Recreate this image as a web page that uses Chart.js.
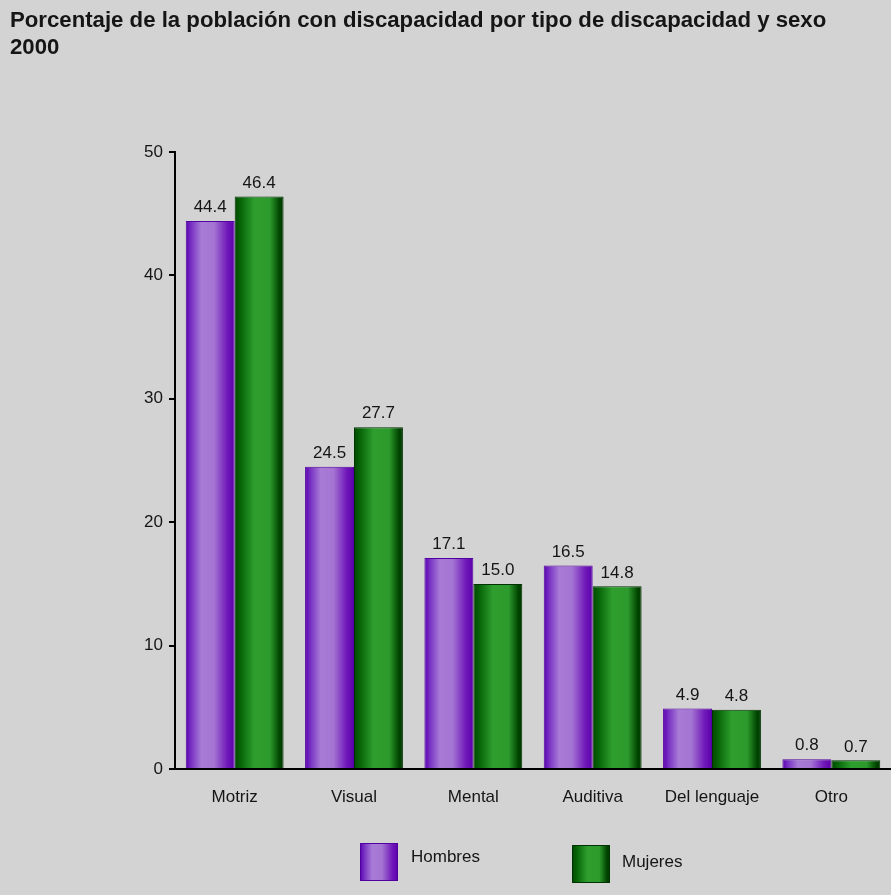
<!doctype html>
<html lang="es">
<head>
<meta charset="UTF-8">
<title>Población con discapacidad 2000</title>
<script src="https://cdn.jsdelivr.net/npm/chart.js@4.4.1/dist/chart.umd.min.js"></script>
<style>
  html, body { margin: 0; padding: 0; background: #d3d3d3; }
  #wrap { width: 891px; height: 895px; }
</style>
</head>
<body>
<div id="wrap">
  <canvas id="barChart" width="891" height="895"></canvas>
</div>
<script>
// datos
const tipos = ['Motriz', 'Visual', 'Mental', 'Auditiva', 'Del lenguaje', 'Otro'];
const hombres = [44.4, 24.5, 17.1, 16.5, 4.9, 0.8];
const mujeres = [46.4, 27.7, 15.0, 14.8, 4.8, 0.7];
const ejeY = [0, 10, 20, 30, 40, 50];

const FUENTE = "'Liberation Sans', Arial, sans-serif";
const TEXTO = '#151515';

// franjas de color de cada serie (efecto cilindro)
const franjaMorada = [[0, '#5a00b0'], [0.12, '#7a34c4'], [0.32, '#a87cd6'], [0.58, '#a474d2'], [0.85, '#7018ba'], [1, '#5c00ac']];
const franjaVerde = [[0, '#004800'], [0.15, '#0a6a0a'], [0.4, '#2e9e2e'], [0.72, '#2c9a2c'], [0.92, '#004400'], [1, '#003a00']];

function pintaFranja(ctx, x0, x1, franja) {
  const g = ctx.createLinearGradient(x0, 0, x1, 0);
  franja.forEach(([p, c]) => g.addColorStop(p, c));
  return g;
}

// relleno degradado por barra, a partir de la posición calculada por Chart.js
const degradado = {
  id: 'degradado',
  beforeDatasetsDraw(chart) {
    const ctx = chart.ctx;
    chart.data.datasets.forEach((ds, i) => {
      chart.getDatasetMeta(i).data.forEach(bar => {
        const { x, width } = bar.getProps(['x', 'width'], true);
        const g = pintaFranja(ctx, x - width / 2, x + width / 2, ds.franja);
        bar.options = Object.assign({}, bar.options, { backgroundColor: g });
      });
    });
  }
};

// valores encima de cada barra
const etiquetas = {
  id: 'etiquetas',
  afterDatasetsDraw(chart) {
    const ctx = chart.ctx;
    ctx.save();
    ctx.font = '17px ' + FUENTE;
    ctx.fillStyle = TEXTO;
    ctx.textAlign = 'center';
    ctx.textBaseline = 'bottom';
    chart.data.datasets.forEach((ds, i) => {
      chart.getDatasetMeta(i).data.forEach((bar, j) => {
        ctx.fillText(ds.data[j].toFixed(1), bar.x, bar.y - 5);
      });
    });
    ctx.restore();
  }
};

// leyenda inferior
const leyenda = {
  id: 'leyenda',
  afterDraw(chart) {
    const ctx = chart.ctx;
    const items = [
      { x: 360, y: 843, tx: 411, ty: 857 },
      { x: 572, y: 845, tx: 622, ty: 862 }
    ];
    ctx.save();
    ctx.font = '17px ' + FUENTE;
    ctx.textBaseline = 'middle';
    chart.data.datasets.forEach((ds, i) => {
      const it = items[i];
      ctx.fillStyle = pintaFranja(ctx, it.x, it.x + 38, ds.franja);
      ctx.fillRect(it.x, it.y, 38, 38);
      ctx.strokeStyle = ds.borderColor;
      ctx.lineWidth = 1;
      ctx.strokeRect(it.x + 0.5, it.y + 0.5, 37, 37);
      ctx.fillStyle = TEXTO;
      ctx.fillText(ds.label, it.tx, it.ty);
    });
    ctx.restore();
  }
};

const ctx = document.getElementById('barChart').getContext('2d');
const chart = new Chart(ctx, {
  type: 'bar',
  plugins: [degradado, etiquetas, leyenda],
  data: {
    labels: tipos,
    datasets: [{
      label: 'Hombres',
      data: hombres,
      franja: franjaMorada,
      backgroundColor: '#a070d0',
      borderColor: '#5000a0',
      borderWidth: 1
    }, {
      label: 'Mujeres',
      data: mujeres,
      franja: franjaVerde,
      backgroundColor: '#2e9e2e',
      borderColor: '#003300',
      borderWidth: 1
    }]
  },
  options: {
    responsive: false,
    animation: false,
    events: [],
    categoryPercentage: 0.82,
    barPercentage: 1,
    layout: { padding: { left: 10, right: 0, top: 0, bottom: 0 } },
    plugins: {
      legend: { display: false },
      tooltip: { enabled: false },
      title: {
        display: true,
        align: 'start',
        text: ['Porcentaje de la población con discapacidad por tipo de discapacidad y sexo', '2000'],
        color: TEXTO,
        font: { family: FUENTE, size: 22.2, weight: 'bold', lineHeight: '27px' },
        padding: { top: 7, bottom: 91 }
      }
    },
    scales: {
      x: {
        grid: { display: false },
        border: { display: true, color: '#000', width: 2 },
        ticks: { color: TEXTO, font: { family: FUENTE, size: 17 }, padding: 10 },
        afterFit(scale) { scale.height = 126; }
      },
      y: {
        min: ejeY[0],
        max: ejeY[ejeY.length - 1],
        afterBuildTicks(scale) { scale.ticks = ejeY.map(v => ({ value: v })); },
        grid: { display: true, drawOnChartArea: false, drawTicks: true, tickLength: 6, color: '#000', lineWidth: 2 },
        border: { display: true, color: '#000', width: 2 },
        ticks: { color: TEXTO, font: { family: FUENTE, size: 17 }, padding: 6 },
        afterFit(scale) { scale.width = 165; }
      }
    }
  }
});
</script>
</body>
</html>
